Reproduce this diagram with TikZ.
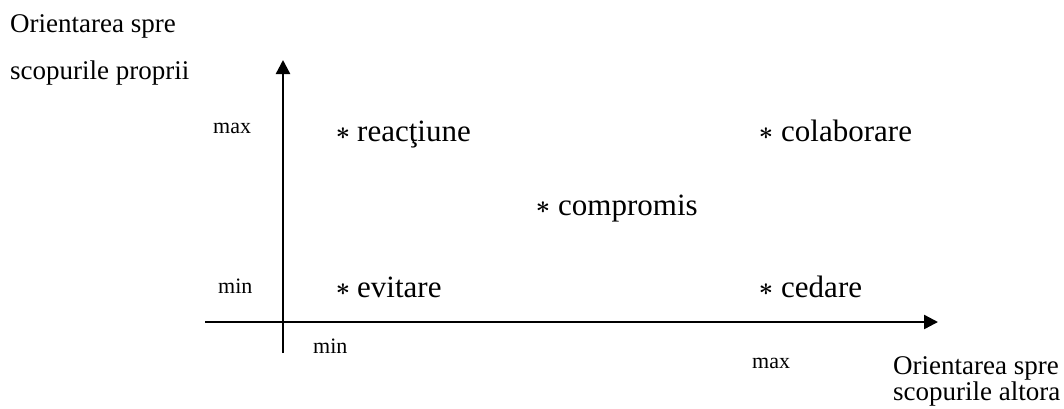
\documentclass[tikz,border=0pt]{standalone}
\usepackage{fontspec}
\setmainfont{Liberation Serif}
\usepackage{tikz}
\usetikzlibrary{arrows.meta,positioning}
\tikzset{
  item/.style={anchor=base west,inner sep=0pt,font=\fontsize{31}{31}\selectfont},
  ast/.style={inner sep=0pt,font=\fontsize{25}{25}\selectfont\boldmath},
  lim/.style={anchor=base west,inner sep=0pt,font=\fontsize{22}{22}\selectfont},
  ttl/.style={anchor=base west,inner sep=0pt,font=\fontsize{27}{27}\selectfont},
  axis/.style={line width=2.4pt,-{Triangle[length=14pt,width=14pt]}}
}

\begin{document}
\begin{tikzpicture}[x=1pt,y=-1pt]
        \useasboundingbox (0,0) rectangle (1064,408);

        % axes
        \coordinate (yb) at (283,353);
        \coordinate (yt) at (283,60);
        \coordinate (xl) at (205,322);
        \coordinate (xr) at (938,322);
        \draw [axis] (yb) -- (yt);
        \draw [axis] (xl) -- (xr);

        % axis titles
        \node[ttl] (t1) at (10,32) {Orientarea spre};
        \node[ttl] (t2) at (10,79) {scopurile proprii};
        \node[ttl] (t3) at (893,374) {Orientarea spre};
        \node[ttl] (t4) at (893,400) {scopurile altora};

        % min / max
        \node[lim] (ymax) at (213,133) {max};
        \node[lim] (ymin) at (218,293) {min};
        \node[lim] (xmin) at (313,353) {min};
        \node[lim] (xmax) at (752,368) {max};

        % styles
        \node[ast] (a1) at (343,134) {$\ast$};
        \node[item] (react) at (357,141) {reacţiune};
        \node[ast] (a2) at (766,134) {$\ast$};
        \node[item] (colab) at (781,141) {colaborare};
        \node[ast] (a3) at (543,208) {$\ast$};
        \node[item] (compr) at (558,215) {compromis};
        \node[ast] (a4) at (343,290) {$\ast$};
        \node[item] (evit) at (357,297) {evitare};
        \node[ast] (a5) at (766,290) {$\ast$};
        \node[item] (ced) at (781,297) {cedare};
\end{tikzpicture}
\end{document}
